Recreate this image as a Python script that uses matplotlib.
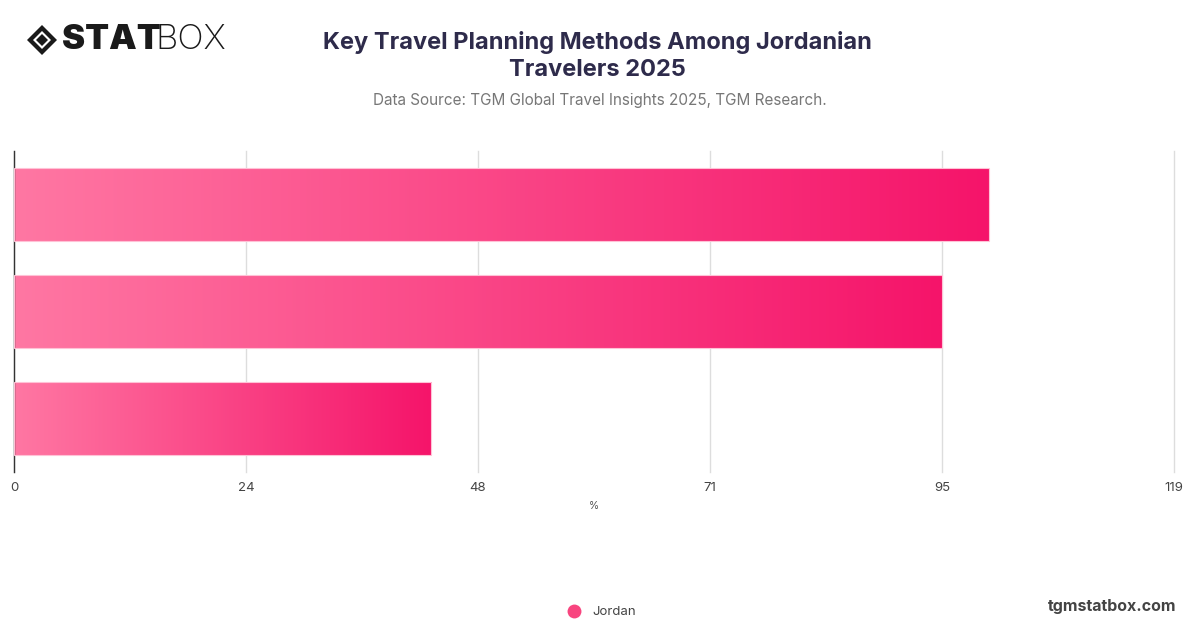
import matplotlib.pyplot as plt
import numpy as np
from matplotlib.colors import LinearSegmentedColormap
from matplotlib.patches import Polygon
from matplotlib.lines import Line2D

# categories are not labelled in the source chart
CATEGORIES = ["Method 1", "Method 2", "Method 3"]
VALUES = [100, 95.2, 42.8]
SERIES = "Jordan"
X_MAX = 119
TICKS = np.linspace(0, X_MAX, 6)
TICK_LABELS = ["0", "24", "48", "71", "95", "119"]

TITLE = "Key Travel Planning Methods Among Jordanian\nTravelers 2025"
SUBTITLE = "Data Source: TGM Global Travel Insights 2025, TGM Research."

W, H = 1200, 628
plt.rcParams["font.family"] = ["Inter", "DejaVu Sans"]

cmap = LinearSegmentedColormap.from_list("pink", ["#FF77A3", "#F5146A"])


def px(x, y):
    return (x / W, 1 - y / H)


fig = plt.figure(figsize=(12, 6.28), dpi=100)
ax = fig.add_axes([14 / W, 1 - 472 / H, 1160 / W, 321 / H])

grad = np.tile(np.linspace(0, 1, 512), (4, 1))
bar_h = 0.69
bars = ax.barh(range(len(VALUES)), VALUES, height=bar_h, color="none",
               edgecolor="#FFC2D6", linewidth=0.8, zorder=3)
for bar, v in zip(bars, VALUES):
    y0 = bar.get_y()
    im = ax.imshow(grad, cmap=cmap, aspect="auto", extent=[0, v, y0 + bar_h + 0.05, y0 - 0.05],
                   interpolation="bilinear", zorder=2)
    im.set_clip_path(bar)

ax.set_xlim(0, X_MAX)
ax.set_ylim(len(VALUES) - 0.5, -0.5)
ax.set_xticks(TICKS)
ax.set_xticklabels(TICK_LABELS, fontsize=9.5, color="#444444")
ax.set_yticks([])
ax.tick_params(axis="x", length=0, pad=7)
ax.grid(axis="x", color="#DDDDDD", linewidth=1, zorder=0)
for gl in ax.get_xgridlines():
    gl.set_clip_on(False)
ax.set_axisbelow(True)
for s in ["top", "right", "bottom"]:
    ax.spines[s].set_visible(False)
ax.spines["left"].set_color("#333333")
ax.spines["left"].set_linewidth(1)
ax.set_xlabel("%", fontsize=7.5, color="#555555", labelpad=5)

# title block
fig.text(*px(597, 56), TITLE, ha="center", va="center", fontsize=17, fontweight="bold",
         color="#2E2B4B", linespacing=1.25)
fig.text(*px(600, 101), SUBTITLE, ha="center", va="center", fontsize=11, color="#777777")

# logo
cx, cy = 42, 40
for r, col in [(15, "#1A1A1A"), (9, "white"), (6, "#1A1A1A")]:
    fig.add_artist(Polygon([px(cx - r, cy), px(cx, cy - r), px(cx + r, cy), px(cx, cy + r)],
                           closed=True, facecolor=col, edgecolor="none",
                           transform=fig.transFigure))
fig.text(*px(62, 40), "STAT", ha="left", va="center", fontsize=25, fontweight="black",
         color="#1A1A1A")
fig.text(*px(155, 40), "BOX", ha="left", va="center", fontsize=25, fontweight="light",
         color="#1A1A1A")

# legend
lx, ly = px(574, 611)
fig.add_artist(Line2D([lx], [ly], marker="o", markersize=10, markerfacecolor="#F8457F",
                      markeredgecolor="none", linestyle="none", transform=fig.transFigure))
fig.text(*px(592, 612), SERIES, ha="left", va="center", fontsize=9.5, color="#444444")
fig.text(*px(1176, 606), "tgmstatbox.com", ha="right", va="center", fontsize=11.5,
         fontweight="bold", color="#444444")

fig.savefig("out.png", dpi=100)
